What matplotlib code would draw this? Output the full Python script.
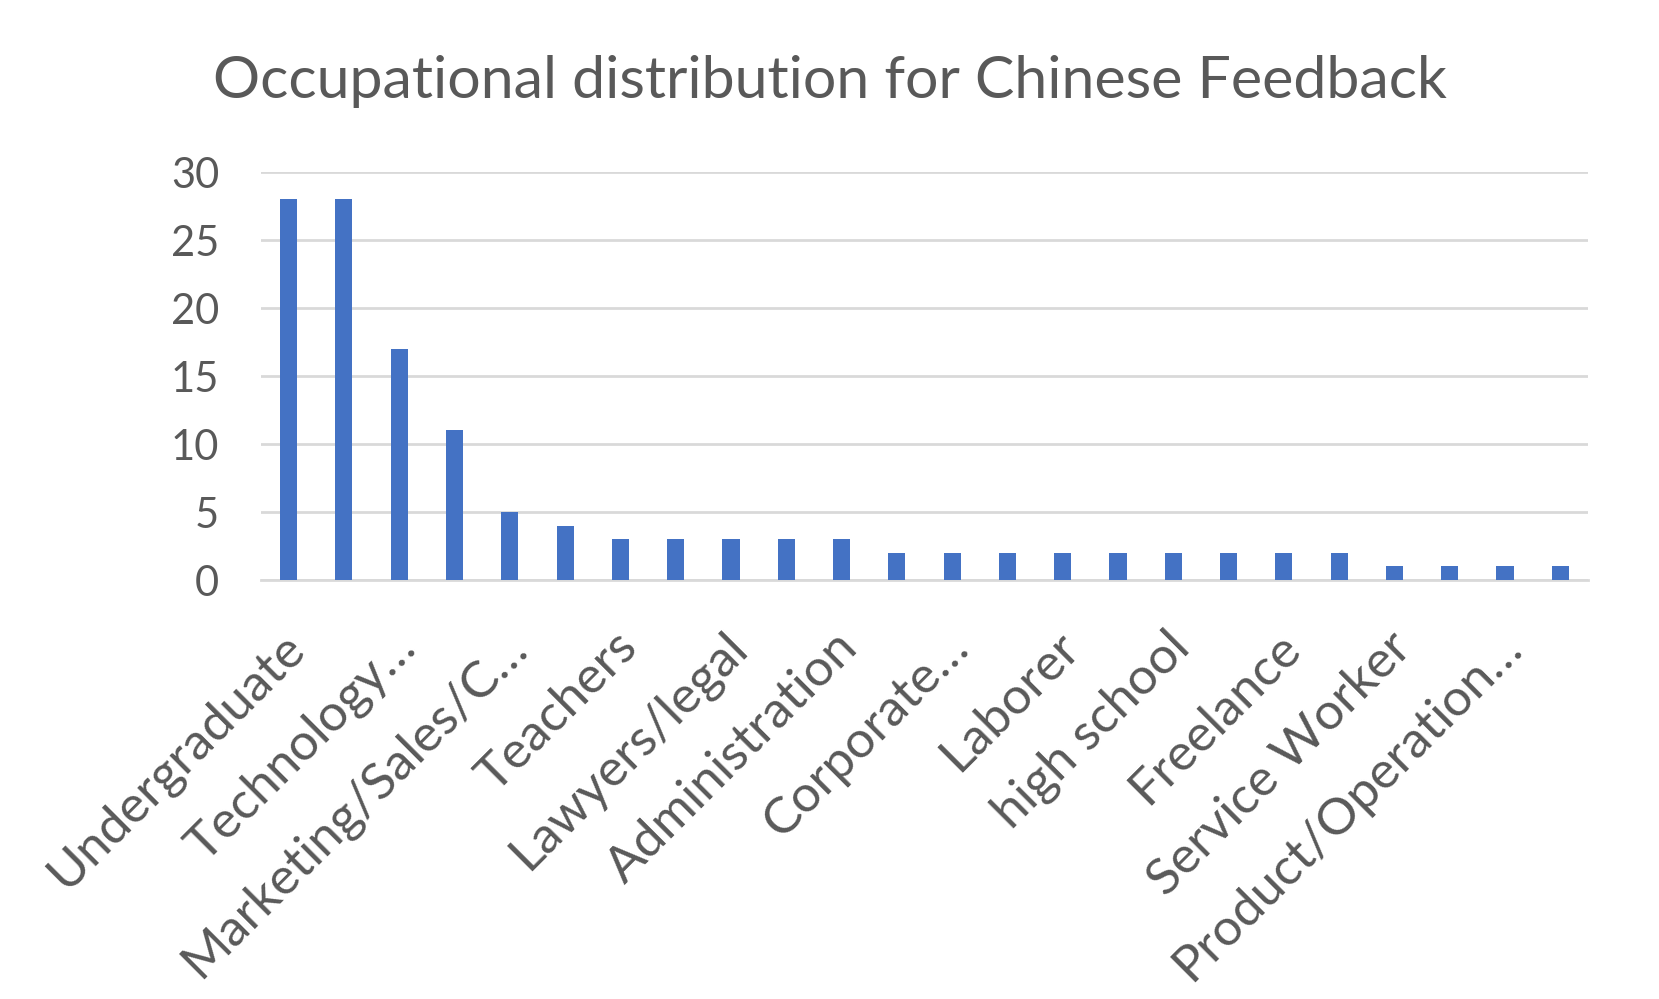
import matplotlib
matplotlib.use('Agg')
import matplotlib.pyplot as plt
import matplotlib.transforms as mtransforms
import numpy as np

# Values (24 categories, only every other one is labelled)
counts = [28, 28, 17, 11, 5, 4, 3, 3, 3, 3, 3, 2,
          2, 2, 2, 2, 2, 2, 2, 2, 1, 1, 1, 1]
shown_labels = ["Undergraduate", "Technology…", "Marketing/Sales/C…", "Teachers",
                "Lawyers/legal", "Administration", "Corporate…", "Laborer",
                "high school", "Freelance", "Service Worker", "Product/Operation…"]
y_ticks = [0, 5, 10, 15, 20, 25, 30]

TITLE = "Occupational distribution for Chinese Feedback"
BAR_COLOR = '#4472C4'
TEXT_COLOR = '#595959'
GRID_COLOR = '#D9D9D9'
FONT = ['Lato', 'DejaVu Sans']

plt.rcParams['font.family'] = FONT

fig = plt.figure(figsize=(16.59, 9.99), dpi=100, facecolor='white')
ax = fig.add_axes([0.1573, 0.4194, 0.7999, 0.4084])

x = np.arange(len(counts))
ax.bar(x, counts, width=0.31, color=BAR_COLOR, zorder=3)

ax.set_xlim(-0.5, len(counts) - 0.5)
ax.set_ylim(0, 30)
ax.set_yticks(y_ticks)
ax.yaxis.grid(True, color=GRID_COLOR, linewidth=2)
ax.set_axisbelow(True)

ax.set_xticks(x[::2])
ax.set_xticklabels(shown_labels, rotation=45, ha='right', va='center',
                   rotation_mode='anchor')

ax.tick_params(axis='y', length=0, pad=30, labelsize=30, labelcolor=TEXT_COLOR)
ax.tick_params(axis='x', length=0, pad=36, labelsize=37, labelcolor=TEXT_COLOR)

# nudge the rotated labels a little down-right, like Excel places them
shift = mtransforms.ScaledTranslation(9 / 100, -10 / 100, fig.dpi_scale_trans)
for lbl in ax.get_xticklabels():
    lbl.set_transform(lbl.get_transform() + shift)

for side in ['top', 'right', 'left']:
    ax.spines[side].set_visible(False)
ax.spines['bottom'].set_color(GRID_COLOR)
ax.spines['bottom'].set_linewidth(2)

fig.text(0.5, 1 - 98 / 999, TITLE, ha='center', va='baseline',
         fontsize=42.5, color=TEXT_COLOR)

fig.savefig('out.png', dpi=100, facecolor='white')
